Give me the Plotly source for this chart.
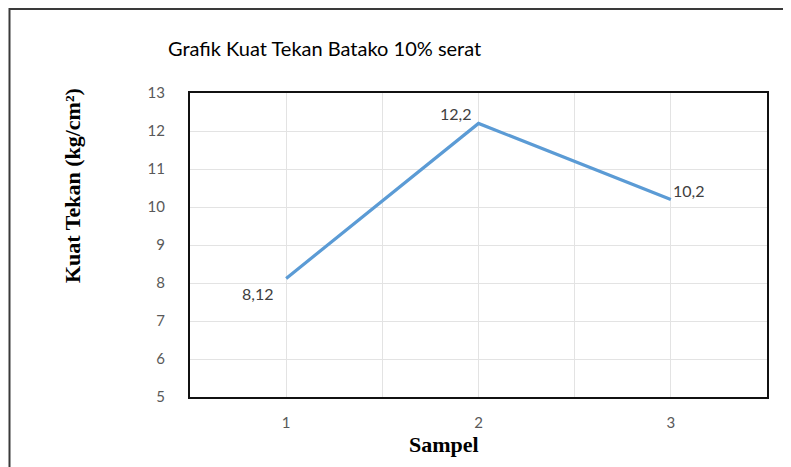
import plotly.graph_objects as go

samples = [1, 2, 3]
values = [8.12, 12.2, 10.2]
labels = ["8,12", "12,2", "10,2"]
y_ticks = [5, 6, 7, 8, 9, 10, 11, 12, 13]

# Page has an 8px body margin; figure is sized so plot area lands at page x 190-767, y 93-397
W, H = 783, 459
L, R, T, B = 182, 24, 85, 70
pw, ph = W - L - R, H - T - B


def px_x(p):
    return (p - L) / pw


def px_y(p):
    return (H - B - p) / ph


fig = go.Figure()
fig.add_trace(go.Scatter(x=samples, y=values, mode="lines",
                         line=dict(color="#5B9BD5", width=3.2), showlegend=False))

label_pos = [(-29, -15), (-23, 10), (18, 9)]
for xv, yv, t, (dx, dy) in zip(samples, values, labels, label_pos):
    fig.add_annotation(x=xv, y=yv, text=t, showarrow=False, xshift=dx, yshift=dy,
                       font=dict(family="Lato, Open Sans, sans-serif", size=16, color="#404040"))

# outer border (top and left)
fig.add_shape(type="line", xref="paper", yref="paper", x0=px_x(1), x1=px_x(800),
              y0=px_y(1), y1=px_y(1), line=dict(color="#3a3a3a", width=2))
fig.add_shape(type="line", xref="paper", yref="paper", x0=px_x(1.5), x1=px_x(1.5),
              y0=px_y(0), y1=px_y(480), line=dict(color="#3a3a3a", width=2))

# axis titles as annotations (positioned like the reference)
fig.add_annotation(xref="paper", yref="paper", x=px_x(64), y=px_y(178),
                   text="Kuat Tekan (kg/cm²)", textangle=-90, showarrow=False,
                   xanchor="center", yanchor="middle",
                   font=dict(family="Liberation Serif, serif", size=22, color="black", weight="bold"))
fig.add_annotation(xref="paper", yref="paper", x=px_x(436), y=px_y(436),
                   text="Sampel", showarrow=False, xanchor="center", yanchor="middle",
                   font=dict(family="Liberation Serif, serif", size=22, color="black", weight="bold"))

fig.update_layout(
    width=W, height=H,
    margin=dict(l=L, r=R, t=T, b=B),
    paper_bgcolor="white", plot_bgcolor="white",
    title=dict(text="Grafik Kuat Tekan Batako 10% serat", x=160 / W, xanchor="left",
               y=1 - 41 / H, yanchor="middle",
               font=dict(family="Lato, Open Sans, sans-serif", size=20, color="black")),
    xaxis=dict(range=[0.5, 3.5], tickvals=samples, ticktext=[str(s) for s in samples],
               showgrid=True, gridcolor="#E3E3E3", gridwidth=1,
               minor=dict(dtick=0.5, tick0=0.5, showgrid=True, gridcolor="#E3E3E3"),
               showline=True, mirror=True, linecolor="#111111", linewidth=2,
               ticks="", tickfont=dict(family="Lato, Open Sans, sans-serif", size=15, color="#595959"),
               ticklabelstandoff=11, zeroline=False),
    yaxis=dict(range=[5, 13], tickvals=y_ticks, showgrid=True, gridcolor="#E3E3E3", gridwidth=1,
               showline=True, mirror=True, linecolor="#111111", linewidth=2,
               ticks="", tickfont=dict(family="Lato, Open Sans, sans-serif", size=15, color="#595959"),
               ticklabelstandoff=20, zeroline=False),
)

fig.write_html("out.html")
